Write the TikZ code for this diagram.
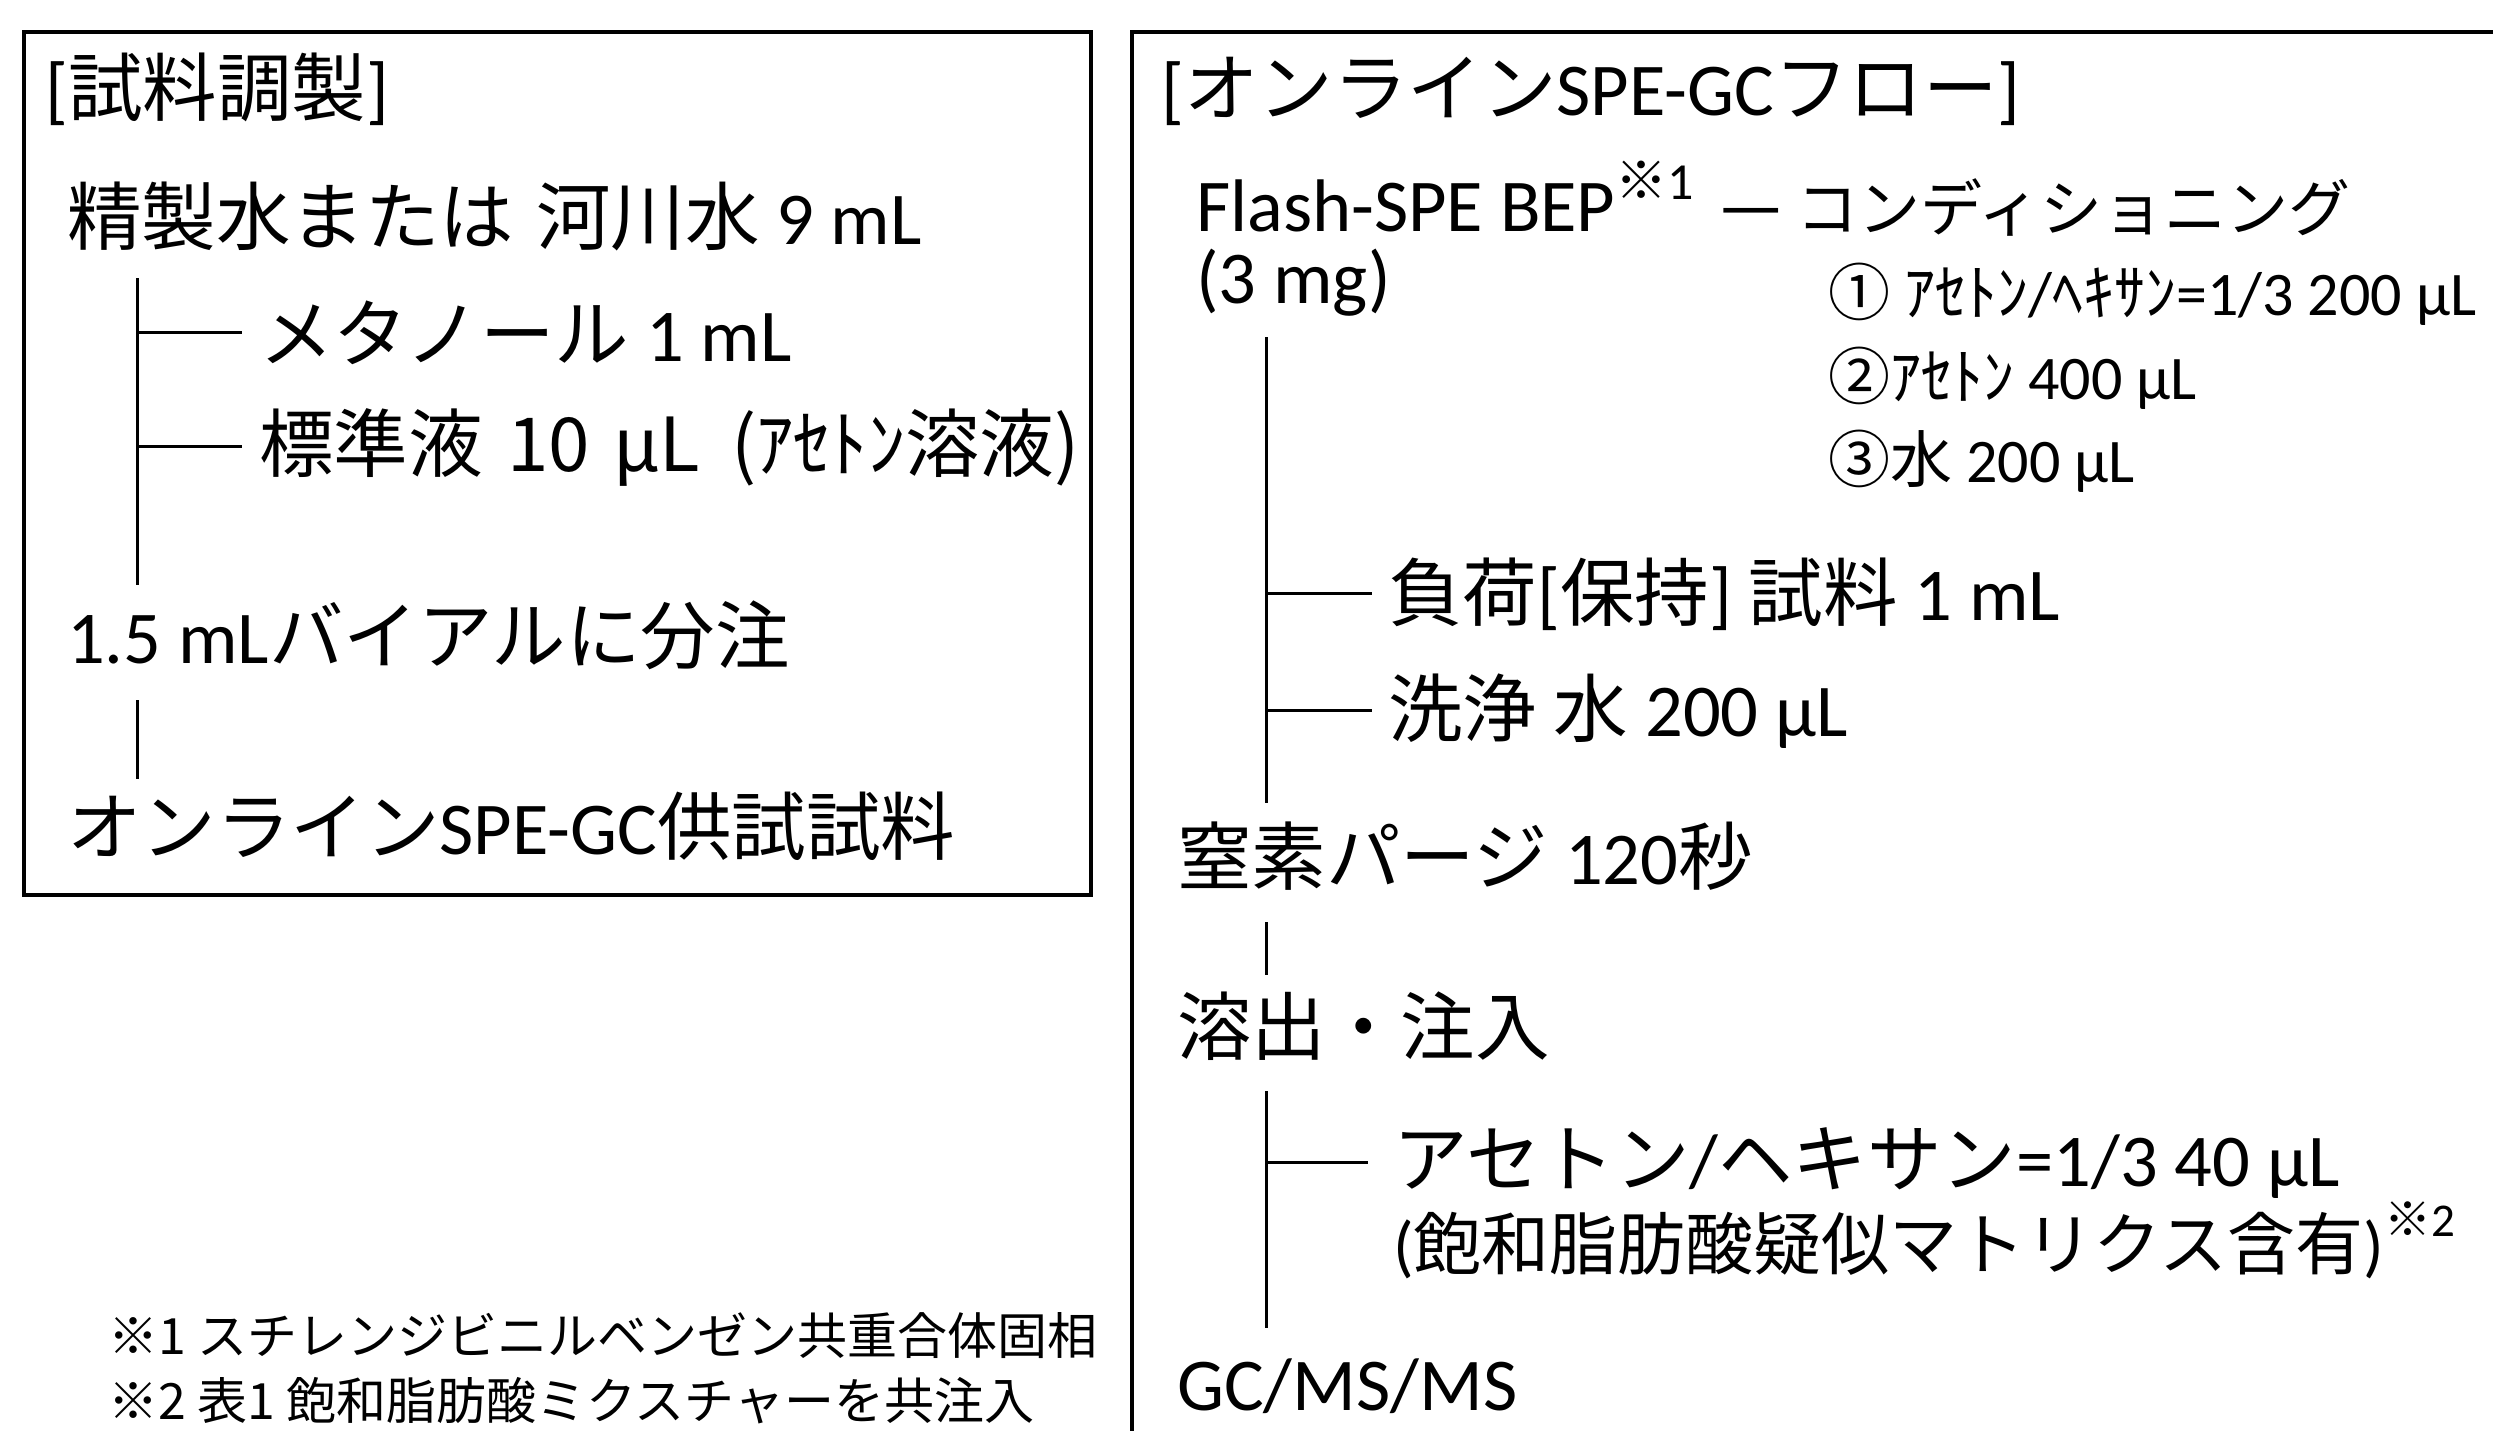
\documentclass[tikz,border=0pt]{standalone}
\usepackage{fontspec}
\setmainfont{Carlito}
\newfontfamily\jp{Noto Sans CJK JP}
\newcommand\J[1]{{\jp #1}}
\newcommand\sups[1]{\raisebox{0.42em}{\fontsize{52}{56}\selectfont #1}}
\newcommand\supsb[1]{\raisebox{0.44em}{\fontsize{47}{52}\selectfont #1}}
\tikzset{
  txt/.style={anchor=base west, inner sep=0pt, font=\fontsize{74.5}{80}\selectfont},
  smalltxt/.style={txt, font=\fontsize{62}{70}\selectfont},
  notetxt/.style={txt, font=\fontsize{50}{56}\selectfont\jp},
  boxline/.style={draw, line width=4.5pt},
  link/.style={draw, line width=3pt},
}
\begin{document}
\begin{tikzpicture}[x=1pt,y=-1pt]
\useasboundingbox (0,0) rectangle (2493,1430);
% frames
\draw[boxline] (24,32) rectangle (1091,895);
\draw[boxline] (2520,32) -- (1132,32) -- (1132,1450);

% left panel
\node[txt] (t1) at (45,115) {[\J{試料調製}]};
\node[txt] (a1) at (67,244) {\J{精製水または}\hspace{5pt} \J{河川水} 9 mL};
\node[txt] (a2) at (259,361) {\J{メタノール} 1 mL};
\node[txt] (a3) at (259,471) {\J{標準液}\hspace{8pt} \J{10}\hspace{6pt} \J{μL}\hspace{14pt} \J{(ｱｾﾄﾝ溶液)}};
\node[txt] (a4) at (67,663) {1.5 mL\J{バイアルに分注}};
\node[txt] (a5) at (67,854) {\J{オンライン}SPE-GC\J{供試試料}};

\coordinate (l1top) at (137,278);
\coordinate (l1bot) at (137,585);
\coordinate (l2top) at (137,700);
\coordinate (l2bot) at (137,779);
\draw[link] (l1top) -- (l1bot);
\draw[link] (a2.west -| l1top) -- ([xshift=-17pt]a2.west);
\draw[link] (a3.west -| l1top) -- ([xshift=-17pt]a3.west);
\draw[link] (l2top) -- (l2bot);

% right panel
\node[txt] (t2) at (1161,115) {[\J{オンライン}SPE-GC\J{フロー}]};
\node[txt] (b1) at (1196,231) {Flash-SPE BEP\sups{\J{※}1}};
\node[txt] (cond) at (1717,231) {—\hspace{12pt}{\fontsize{62}{70}\selectfont\J{コンディショニング}}};
\node[txt] (b2) at (1196,303) {(3 mg)};
\node[smalltxt] (c1) at (1828,315) {\J{①} \J{ｱｾﾄﾝ}/\J{ﾍｷｻﾝ}=1/3 200 μL};
\node[smalltxt] (c2) at (1828,399) {\J{②ｱｾﾄﾝ} 400 μL};
\node[smalltxt] (c3) at (1828,482) {\J{③水} 200 μL};
\node[txt] (b3) at (1388,620) {\J{負荷}[\J{保持}] \J{試料} 1 mL};
\node[txt] (b4) at (1388,736) {\J{洗浄 水} 200 μL};
\node[txt] (b5) at (1177,884) {\J{窒素パージ} 120\J{秒}};
\node[txt] (b6) at (1177,1054) {\J{溶出・注入}};
\node[txt] (b7) at (1393,1186) {\J{アセトン}/\J{ヘキサン}=1/3 40 μL};
\node[txt] (b8) at (1393,1269) {{\fontsize{68}{78}\selectfont(\J{飽和脂肪酸疑似マトリクス含有})}\supsb{\J{※}2}};
\node[txt] (b9) at (1177,1410) {GC/MS/MS};

\coordinate (r1top) at (1266,337);
\coordinate (r1bot) at (1266,803);
\coordinate (r2top) at (1266,922);
\coordinate (r2bot) at (1266,975);
\coordinate (r3top) at (1266,1091);
\coordinate (r3bot) at (1266,1328);
\draw[link] (r1top) -- (r1bot);
\draw[link] (b3.west -| r1top) -- ([xshift=-16pt]b3.west);
\draw[link] (b4.west -| r1top) -- ([xshift=-16pt]b4.west);
\draw[link] (r2top) -- (r2bot);
\draw[link] (r3top) -- (r3bot);
\draw[link] (b7.west -| r3top) -- ([xshift=-25pt]b7.west);

% footnotes
\node[notetxt] (f1) at (108,1354) {※1 スチレンジビニルベンゼン共重合体固相};
\node[notetxt] (f2) at (108,1419) {※2 表1 飽和脂肪酸ミクスチャーを共注入};
\end{tikzpicture}
\end{document}
